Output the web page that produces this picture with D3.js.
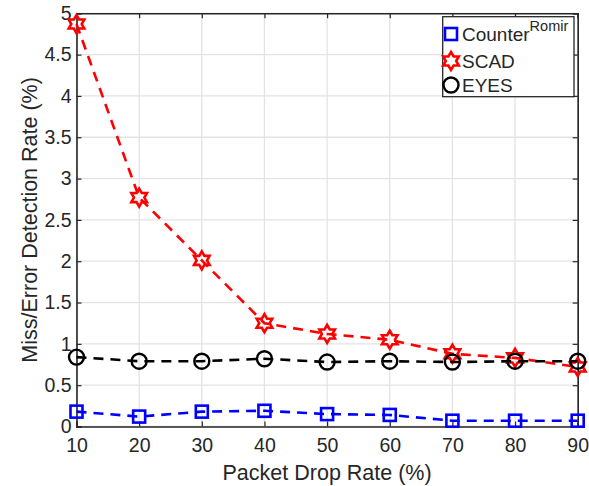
<!DOCTYPE html>
<html>
<head>
<meta charset="utf-8">
<script src="https://cdn.jsdelivr.net/npm/d3@7"></script>
<style>
  html, body { margin: 0; padding: 0; background: #fff; }
  svg { display: block; font-family: "Liberation Sans", Arial, sans-serif; }
</style>
</head>
<body>
<svg id="chart" width="589" height="486"></svg>
<script>
// Packet drop rate (%) on the x axis
const dropRates = [10, 20, 30, 40, 50, 60, 70, 80, 90];

// Miss/error detection rate (%) per method
const counterRomir = [0.18, 0.12, 0.18, 0.19, 0.15, 0.14, 0.07, 0.07, 0.07];
const scad         = [4.87, 2.77, 2.01, 1.25, 1.12, 1.05, 0.88, 0.83, 0.72];
const eyes         = [0.84, 0.79, 0.79, 0.82, 0.78, 0.79, 0.78, 0.79, 0.79];

const xTicks = [10, 20, 30, 40, 50, 60, 70, 80, 90];
const yTicks = [0, 0.5, 1, 1.5, 2, 2.5, 3, 3.5, 4, 4.5, 5];

const seriesNames = ["Counter", "SCAD", "EYES"];

const svg = d3.select("#chart");
const W = 589, H = 486;
const margin = { left: 76.5, right: W - 577.7, top: 13.3, bottom: H - 426.5 };
const x = d3.scaleLinear().domain([10, 90]).range([margin.left, W - margin.right]);
const y = d3.scaleLinear().domain([0, 5]).range([H - margin.bottom, margin.top]);

const axisColor = "#262626";
const gridColor = "#e3e3e3";
const tickFont = 19.5;
const labelFont = 21.5;

// grid
const g = svg.append("g");
g.selectAll(".vg").data(xTicks).join("line")
  .attr("x1", d => x(d)).attr("x2", d => x(d))
  .attr("y1", y(0)).attr("y2", y(5))
  .attr("stroke", gridColor).attr("stroke-width", 1.3);
g.selectAll(".hg").data(yTicks).join("line")
  .attr("y1", d => y(d)).attr("y2", d => y(d))
  .attr("x1", x(10)).attr("x2", x(90))
  .attr("stroke", gridColor).attr("stroke-width", 1.3);

// axes (box with ticks on all four sides)
const tickLen = 5;
const axB = svg.append("g").attr("transform", `translate(0,${y(0)})`)
  .call(d3.axisBottom(x).tickValues(xTicks).tickSize(-tickLen).tickPadding(12).tickFormat(d3.format("d")));
const axT = svg.append("g").attr("transform", `translate(0,${y(5)})`)
  .call(d3.axisTop(x).tickValues(xTicks).tickSize(-tickLen).tickFormat(""));
const axL = svg.append("g").attr("transform", `translate(${x(10)},0)`)
  .call(d3.axisLeft(y).tickValues(yTicks).tickSize(-tickLen).tickPadding(5).tickFormat(d => d3.format("")(d)));
const axR = svg.append("g").attr("transform", `translate(${x(90)},0)`)
  .call(d3.axisRight(y).tickValues(yTicks).tickSize(-tickLen).tickFormat(""));
[axB, axT, axL, axR].forEach(a => {
  a.select(".domain").attr("stroke", axisColor).attr("stroke-width", 1.6);
  a.selectAll(".tick line").attr("stroke", axisColor).attr("stroke-width", 1.2);
  a.selectAll("text").attr("fill", axisColor).style("font-size", tickFont + "px")
    .style("font-family", "'Liberation Sans', Arial, sans-serif");
});

// axis titles
svg.append("text")
  .attr("x", (x(10) + x(90)) / 2).attr("y", 480)
  .attr("text-anchor", "middle").attr("fill", axisColor)
  .style("font-size", labelFont + "px")
  .text("Packet Drop Rate (%)");
svg.append("text")
  .attr("transform", `translate(37,${(y(0) + y(5)) / 2}) rotate(-90)`)
  .attr("text-anchor", "middle").attr("fill", axisColor)
  .style("font-size", labelFont + "px")
  .text("Miss/Error Detection Rate (%)");

// marker shapes
function hexagram(r) {
  const pts = [];
  for (let i = 0; i < 12; i++) {
    const a = -Math.PI / 2 + i * Math.PI / 6;
    const rr = i % 2 === 0 ? r : r * 0.58;
    pts.push([rr * Math.cos(a), rr * Math.sin(a)]);
  }
  return "M" + pts.map(p => p.join(",")).join("L") + "Z";
}
function drawMarker(sel, kind, color) {
  if (kind === "square") {
    sel.append("rect").attr("x", -6).attr("y", -6).attr("width", 12).attr("height", 12)
      .attr("fill", "none").attr("stroke", color).attr("stroke-width", 2.6);
  } else if (kind === "star") {
    sel.append("path").attr("d", hexagram(9))
      .attr("fill", "none").attr("stroke", color).attr("stroke-width", 2.6);
  } else {
    sel.append("circle").attr("r", 7.5)
      .attr("fill", "none").attr("stroke", color).attr("stroke-width", 2.4);
  }
}

const series = [
  { name: seriesNames[0], values: counterRomir, color: "#0000ff", marker: "square" },
  { name: seriesNames[1], values: scad, color: "#ff0000", marker: "star" },
  { name: seriesNames[2], values: eyes, color: "#000000", marker: "circle" }
];

const line = d3.line().x((d, i) => x(dropRates[i])).y(d => y(d));

series.forEach(s => {
  svg.append("path").datum(s.values)
    .attr("d", line)
    .attr("fill", "none").attr("stroke", s.color)
    .attr("stroke-width", 2.6).attr("stroke-dasharray", "10,7");
  s.values.forEach((v, i) => {
    const m = svg.append("g").attr("transform", `translate(${x(dropRates[i])},${y(v)})`);
    drawMarker(m, s.marker, s.color);
  });
});

// legend
const lg = svg.append("g");
lg.append("rect").attr("x", 442.7).attr("y", 16.7).attr("width", 131.3).attr("height", 80)
  .attr("fill", "#fff").attr("stroke", axisColor).attr("stroke-width", 1.3);
const rowY = [34, 61, 85];
series.forEach((s, i) => {
  const m = lg.append("g").attr("transform", `translate(451,${rowY[i]})`);
  drawMarker(m, s.marker, s.color);
  const t = lg.append("text").attr("x", 462).attr("y", rowY[i] + 7)
    .attr("fill", axisColor).style("font-size", "19px").text(s.name);
  if (i === 0) {
    t.append("tspan").attr("dy", -10).style("font-size", "14.5px").text("Romir");
  }
});
</script>
</body>
</html>
